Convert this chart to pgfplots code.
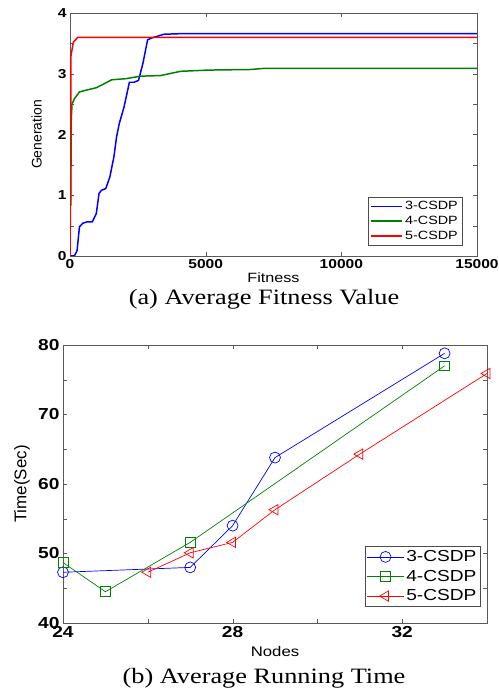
\documentclass[border=0pt]{standalone}
\usepackage{pgfplots}
\pgfplotsset{compat=1.18}
\usepackage{fontspec}
\setmainfont[FakeStretch=1.2]{Liberation Sans}
\newfontfamily\upsans{Liberation Sans}
\newfontfamily\capserif[FakeStretch=1.2]{Liberation Serif}

\definecolor{mblue}{rgb}{0,0,1}
\definecolor{mgreen}{rgb}{0,0.5,0}
\definecolor{mred}{rgb}{1,0,0}

\pgfplotsset{
  matstyle/.style={
    scale only axis,
    anchor=south west,
    axis line style={black!65},
    tick style={black!65},
    /pgf/number format/assume math mode=true,
    legend cell align=left,
  }
}

\begin{document}
\begin{tikzpicture}
\useasboundingbox (0,0) rectangle (499bp,696bp);

% (a) fitness
\begin{axis}[matstyle,
    at={(70bp,440bp)}, width=407bp, height=243bp,
    xmin=0, xmax=15000, ymin=0, ymax=4,
    xtick={0,5000,10000,15000},
    scaled x ticks=false,
    ytick={0,0.5,...,4},
    yticklabels={0,,1,,2,,3,,4},
    tick label style={font=\fontsize{13}{13}\selectfont\bfseries},
    xticklabel style={/pgf/number format/1000 sep={}},
    xlabel={Fitness}, ylabel={\upsans Generation},
    xlabel style={font=\fontsize{13.5}{14}\selectfont, at={(axis description cs:0.5,-0.111)}, anchor=base},
    ylabel style={font=\fontsize{14}{14}\selectfont, at={(axis description cs:-0.082,0.5)}, anchor=center},
    legend style={at={(rel axis cs:0.963,0.045)}, anchor=south east,
      font=\fontsize{12}{14}\selectfont, draw=black!70, inner sep=2pt, row sep=1pt},
    legend image code/.code={\draw[#1] (0cm,0cm) -- (1.1cm,0cm);},
  ]
\addplot[mblue, line width=1.5pt] coordinates {
  (0,0) (162,0) (261,0.09) (348,0.48) (473,0.54) (622,0.56) (821,0.56)
  (970,0.70) (1070,1.03) (1157,1.08) (1318,1.11) (1468,1.30) (1617,1.63)
  (1716,1.96) (1816,2.18) (1990,2.45) (2189,2.86) (2363,2.86) (2525,2.89)
  (2687,3.17) (2861,3.56) (3023,3.59) (3458,3.65) (4080,3.66) (15000,3.66)
};
\addplot[mgreen, line width=1.5pt] coordinates {
  (30,0.83) (45,2.23) (75,2.50) (162,2.59) (348,2.70) (597,2.73) (970,2.77)
  (1281,2.84) (1530,2.90) (2090,2.92) (2587,2.96) (3333,2.97) (4080,3.04)
  (5075,3.06) (6654,3.07) (7206,3.09) (15000,3.09)
};
\addplot[mred, line width=1.5pt] coordinates {
  (0,0) (20,1.0) (37,3.30) (124,3.52) (286,3.60) (15000,3.60)
};
\legend{3-CSDP,4-CSDP,5-CSDP}
\end{axis}
\node[anchor=base, font=\capserif\fontsize{22}{24}\selectfont] at (264bp,391bp) {(a) Average Fitness Value};

% (b) running time
\begin{axis}[matstyle,
    at={(63bp,73bp)}, width=424bp, height=278bp,
    xmin=24, xmax=34, ymin=40, ymax=80,
    xtick={24,26,...,34},
    xticklabels={24,,28,,32,},
    ytick={40,45,...,80},
    yticklabels={40,,50,,60,,70,,80},
    tick label style={font=\fontsize{16}{16}\selectfont\bfseries},
    xlabel={Nodes}, ylabel={\upsans Time(Sec)},
    xlabel style={font=\fontsize{14}{15}\selectfont, at={(axis description cs:0.5,-0.121)}, anchor=base},
    ylabel style={font=\fontsize{17}{17}\selectfont, at={(axis description cs:-0.097,0.5)}, anchor=center},
    legend style={at={(rel axis cs:0.985,0.059)}, anchor=south east,
      font=\fontsize{16}{18}\selectfont, draw=black!70, inner sep=2pt, row sep=3pt},
    legend image code/.code={\draw[mark repeat=2, mark phase=2, #1] plot coordinates {(0cm,0cm) (0.65cm,0cm) (1.3cm,0cm)};},
  ]
\addplot[mblue, line width=0.7pt, mark=o, mark size=5.5pt] coordinates {
  (24,47.3) (27,48.0) (28,54.0) (29,63.8) (33,78.8)
};
\addplot[mgreen, line width=0.7pt, mark=square, mark size=5pt] coordinates {
  (24,48.7) (25,44.5) (27,51.6) (33,77.0)
};
\addplot[mred, line width=0.7pt, mark=triangle, mark size=6pt, mark options={rotate=90}] coordinates {
  (26,47.3) (27,50.1) (28,51.6) (29,56.3) (31,64.3) (34,75.9)
};
\legend{3-CSDP,4-CSDP,5-CSDP}
\end{axis}
\node[anchor=base, font=\capserif\fontsize{22}{24}\selectfont] at (264bp,13bp) {(b) Average Running Time};
\end{tikzpicture}
\end{document}
